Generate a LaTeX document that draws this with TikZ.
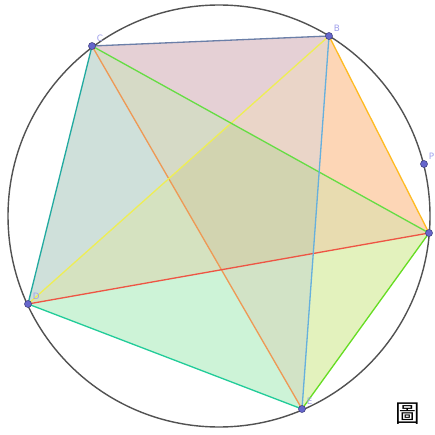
\documentclass[tikz,border=0pt]{standalone}
\usepackage{fontspec}
\setsansfont{DejaVu Sans}
\newfontfamily\cjkfont{Noto Sans CJK TC}
\usetikzlibrary{positioning}
\definecolor{ptblue}{RGB}{102,102,204}
\definecolor{lblblue}{RGB}{160,160,235}
\definecolor{segCB}{RGB}{107,127,168}
\definecolor{segBA}{RGB}{255,187,34}
\definecolor{segCA}{RGB}{102,221,68}
\definecolor{segCD}{RGB}{34,170,160}
\definecolor{segCE}{RGB}{238,153,85}
\definecolor{segBD}{RGB}{238,238,85}
\definecolor{segBE}{RGB}{102,176,221}
\definecolor{segDA}{RGB}{238,85,68}
\definecolor{segDE}{RGB}{34,204,153}
\definecolor{segEA}{RGB}{102,221,34}
% region colours
\definecolor{edgeCB}{HTML}{E5D0D5}
\definecolor{edgeBA}{HTML}{FDD6B6}
\definecolor{edgeAE}{HTML}{E3F2BD}
\definecolor{edgeED}{HTML}{CDF3D7}
\definecolor{edgeDC}{HTML}{CFE0DA}
\definecolor{tipB}{HTML}{EAD5C8}
\definecolor{tipA}{HTML}{E8DCB0}
\definecolor{tipE}{HTML}{D2E3C6}
\definecolor{tipD}{HTML}{D5E2C0}
\definecolor{tipC}{HTML}{D6DAC6}
\definecolor{core}{HTML}{D2D4B0}

\begin{document}
\begin{tikzpicture}[x=0.02cm,y=-0.02cm,
    pt/.style={circle,fill=ptblue,draw=ptblue!60!black,line width=.3pt,inner sep=0pt,minimum size=4pt},
    lbl/.style={font=\sffamily\tiny,text=lblblue,inner sep=1pt,label distance=0pt},
    seg/.style={line width=.75pt}]
    \useasboundingbox (0,0) rectangle (434,435);
    \coordinate (O) at (219,216);
    \coordinate (C) at (92,46);
    \coordinate (B) at (329,36);
    \coordinate (A) at (429,233);
    \coordinate (D) at (28,304);
    \coordinate (E) at (302,409);
    \coordinate (P) at (424,164);
    % inner pentagon
    \coordinate (X1) at (intersection of C--A and B--D);
    \coordinate (X2) at (intersection of C--A and B--E);
    \coordinate (X3) at (intersection of B--E and D--A);
    \coordinate (X4) at (intersection of C--E and D--A);
    \coordinate (X5) at (intersection of C--E and B--D);
    % regions
    \fill[edgeCB] (C)--(B)--(X1)--cycle;
    \fill[edgeBA] (B)--(A)--(X2)--cycle;
    \fill[edgeAE] (A)--(E)--(X3)--cycle;
    \fill[edgeED] (E)--(D)--(X4)--cycle;
    \fill[edgeDC] (D)--(C)--(X5)--cycle;
    \fill[tipB] (B)--(X2)--(X1)--cycle;
    \fill[tipA] (A)--(X3)--(X2)--cycle;
    \fill[tipE] (E)--(X4)--(X3)--cycle;
    \fill[tipD] (D)--(X5)--(X4)--cycle;
    \fill[tipC] (C)--(X1)--(X5)--cycle;
    \fill[core] (X1)--(X2)--(X3)--(X4)--(X5)--cycle;
    \draw[line width=.8pt,black!68] (O) circle (211);
    % segments
    \draw[seg,segCD] (C)--(D);
    \draw[seg,segDE] (D)--(E);
    \draw[seg,segCE] (C)--(E);
    \draw[seg,segBD] (B)--(D);
    \draw[seg,segDA] (D)--(A);
    \draw[seg,segCA] (C)--(A);
    \draw[seg,segBE] (B)--(E);
    \draw[seg,segEA] (E)--(A);
    \draw[seg,segBA] (B)--(A);
    \draw[seg,segCB] (C)--(B);
    % points
    \node[pt,label={[lbl]above right:C}] (dC) at (C) {};
    \node[pt,label={[lbl]above right:B}] (dB) at (B) {};
    \node[pt] (dA) at (A) {};
    \node[pt,label={[lbl]above right:D}] (dD) at (D) {};
    \node[pt,label={[lbl]above right:E}] (dE) at (E) {};
    \node[pt,label={[lbl]above right:P}] (dP) at (P) {};
    \node[font=\cjkfont\fontsize{14}{14}\selectfont] (fig) at (408,414) {圖};
\end{tikzpicture}
\end{document}
